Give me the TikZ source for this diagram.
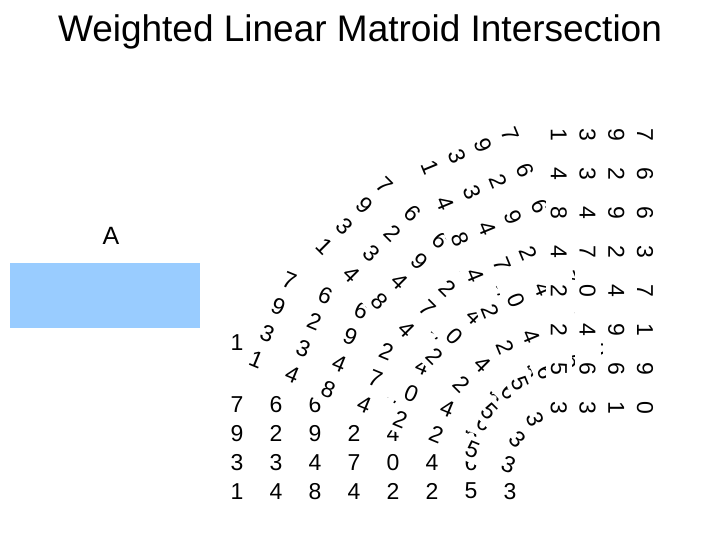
\documentclass[tikz,border=0pt]{standalone}
\usepackage{fontspec}
\setmainfont{Liberation Sans}
\begin{document}
\begin{tikzpicture}[x=1pt,y=-1pt,
  dig/.style={inner sep=0pt,font=\fontsize{23}{23}\selectfont},
  band/.style={fill=white}]
\useasboundingbox (0,0) rectangle (720,540);
\node[font=\fontsize{37}{37}\selectfont] (title) at (360,32) {Weighted Linear Matroid Intersection};
\node[font=\fontsize{25}{25}\selectfont] (lblA) at (111,236) {A};
\fill[fill={rgb,255:red,153;green,204;blue,255}] (10,263) rectangle (200,328);
\foreach \ang [count=\f] in {0,22.5,45,67.5,90}{
  \begin{scope}[rotate around={-\ang:(576,474)}, transform shape]
  \foreach \row [count=\i] in {{7,6,6,3,7,1,9,0},{9,2,9,2,4,9,6,1},{3,3,4,7,0,4,6,3},{1,4,8,4,2,2,5,3}}{
    \pgfmathsetmacro\yy{405+28.7*(\i-1)}
    \fill[band] (222,\yy-13) rectangle (526,\yy+13);
    \foreach \d [count=\j] in \row {
      \node[dig] (d\f-\i-\j) at ({237+39*(\j-1)},\yy) {\d};
    }
  }
  \end{scope}
}
\node[dig] (one) at (237,343) {1};
\end{tikzpicture}
\end{document}
